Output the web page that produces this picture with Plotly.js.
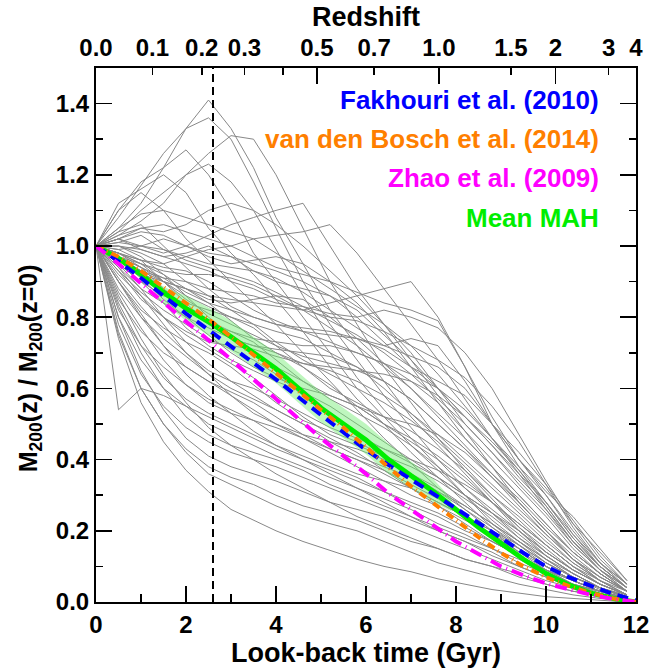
<!DOCTYPE html>
<html><head><meta charset="utf-8">
<script src="https://cdn.plot.ly/plotly-3.0.1.min.js"></script>
<style>html,body{margin:0;padding:0;background:#fff}</style>
</head><body><div id="chart" style="width:659px;height:672px"></div>
<script>
// Look-back time grid (Gyr) of the individual halo mass accretion histories
const lookbackGrid = [0,0.5,1.0,1.5,2.0,2.5,3.0,3.5,4.0,4.6,5.2,5.8,6.4,7.0,7.6,8.2,8.8,9.4,10.0,10.6,11.2,11.8];
// Individual MAHs, M200(z)/M200(z=0)
const grayMAHs = [
 [1.0,1.08,1.17,1.26,1.33,1.41,1.33,1.22,1.08,0.95,0.82,0.72,0.62,0.52,0.44,0.36,0.28,0.20,0.13,0.08,0.04,0.02],
 [1.0,1.05,1.12,1.22,1.33,1.36,1.30,1.18,1.05,0.90,0.78,0.68,0.58,0.49,0.40,0.32,0.25,0.18,0.12,0.07,0.035,0.015],
 [1.0,1.03,1.07,1.12,1.20,1.26,1.31,1.30,1.20,1.05,0.90,0.78,0.66,0.56,0.46,0.37,0.29,0.21,0.14,0.09,0.05,0.02],
 [1.0,1.10,1.18,1.22,1.27,1.20,1.10,0.98,0.90,0.80,0.70,0.60,0.52,0.44,0.37,0.30,0.23,0.17,0.11,0.07,0.04,0.015],
 [1.0,1.04,1.10,1.15,1.20,1.23,1.18,1.10,0.99,0.86,0.74,0.63,0.54,0.46,0.38,0.30,0.22,0.16,0.10,0.06,0.03,0.01],
 [1.0,1.12,1.16,1.20,1.15,1.05,0.98,0.92,0.85,0.76,0.66,0.57,0.50,0.42,0.35,0.28,0.21,0.15,0.10,0.06,0.03,0.01],
 [1.0,1.10,1.15,1.10,1.02,0.96,0.90,0.84,0.78,0.70,0.62,0.54,0.46,0.39,0.32,0.26,0.20,0.14,0.09,0.05,0.03,0.01],
 [1.0,1.02,1.00,0.98,1.00,1.03,1.06,1.08,1.10,1.12,1.00,0.88,0.78,0.68,0.58,0.48,0.38,0.28,0.20,0.12,0.06,0.03],
 [1.0,0.98,0.96,0.95,0.97,0.99,1.00,1.02,1.03,1.04,1.06,0.98,0.88,0.78,0.68,0.57,0.46,0.36,0.26,0.16,0.09,0.04],
 [1.0,0.97,0.93,0.90,0.88,0.86,0.85,0.84,0.83,0.82,0.84,0.86,0.88,0.90,0.80,0.66,0.52,0.40,0.31,0.24,0.15,0.06],
 [1.0,1.03,1.05,1.06,1.04,1.02,1.00,0.97,0.94,0.92,0.90,0.87,0.84,0.82,0.79,0.66,0.50,0.40,0.32,0.22,0.14,0.06],
 [1.0,1.05,1.09,1.10,1.08,1.06,1.04,1.02,0.98,0.93,0.88,0.83,0.78,0.72,0.64,0.55,0.46,0.38,0.30,0.20,0.11,0.05],
 [1.0,1.02,1.05,1.04,1.06,1.10,1.12,1.10,1.06,1.00,0.93,0.86,0.78,0.70,0.60,0.50,0.42,0.33,0.25,0.16,0.09,0.04],
 [1.0,0.99,1.00,1.02,1.00,0.97,0.95,0.96,0.97,0.95,0.90,0.84,0.76,0.66,0.56,0.46,0.38,0.30,0.22,0.14,0.08,0.03],
 [1.0,1.01,1.03,0.99,0.96,0.94,0.92,0.90,0.87,0.83,0.79,0.75,0.70,0.64,0.57,0.50,0.42,0.34,0.26,0.17,0.10,0.04],
 [1.0,0.98,0.95,0.93,0.92,0.92,0.91,0.89,0.86,0.82,0.77,0.72,0.66,0.60,0.53,0.46,0.38,0.30,0.22,0.14,0.08,0.03],
 [1.0,0.96,0.92,0.90,0.88,0.85,0.84,0.85,0.86,0.85,0.80,0.74,0.67,0.60,0.52,0.44,0.36,0.29,0.21,0.14,0.08,0.03],
 [1.0,0.97,0.94,0.90,0.86,0.83,0.80,0.78,0.76,0.74,0.70,0.66,0.62,0.57,0.50,0.43,0.35,0.27,0.19,0.12,0.07,0.03],
 [1.0,1.00,0.98,0.95,0.90,0.86,0.82,0.78,0.73,0.68,0.64,0.60,0.56,0.51,0.45,0.38,0.30,0.23,0.16,0.10,0.05,0.02],
 [1.0,0.95,0.90,0.86,0.84,0.82,0.80,0.77,0.72,0.66,0.60,0.56,0.52,0.48,0.43,0.37,0.30,0.24,0.17,0.11,0.06,0.02],
 [1.0,0.96,0.91,0.85,0.80,0.77,0.74,0.72,0.70,0.66,0.61,0.55,0.50,0.46,0.41,0.35,0.28,0.21,0.15,0.09,0.05,0.02],
 [1.0,0.98,0.94,0.88,0.82,0.78,0.76,0.73,0.68,0.62,0.57,0.53,0.49,0.44,0.38,0.32,0.26,0.20,0.14,0.09,0.05,0.02],
 [1.0,0.94,0.88,0.84,0.80,0.75,0.70,0.66,0.63,0.60,0.58,0.55,0.50,0.45,0.40,0.34,0.28,0.22,0.16,0.10,0.05,0.02],
 [1.0,0.93,0.87,0.82,0.78,0.74,0.71,0.68,0.64,0.58,0.52,0.47,0.43,0.40,0.37,0.33,0.28,0.22,0.16,0.10,0.06,0.02],
 [1.0,0.95,0.90,0.84,0.77,0.72,0.68,0.65,0.62,0.59,0.55,0.50,0.45,0.40,0.35,0.30,0.25,0.19,0.13,0.08,0.04,0.015],
 [1.0,0.92,0.86,0.80,0.75,0.71,0.67,0.63,0.58,0.52,0.47,0.44,0.41,0.38,0.34,0.29,0.24,0.18,0.13,0.08,0.04,0.015],
 [1.0,0.90,0.82,0.77,0.73,0.70,0.66,0.61,0.56,0.51,0.48,0.45,0.41,0.36,0.31,0.26,0.21,0.16,0.11,0.07,0.04,0.015],
 [1.0,0.91,0.83,0.76,0.70,0.65,0.62,0.60,0.57,0.53,0.49,0.46,0.43,0.39,0.35,0.30,0.25,0.20,0.14,0.09,0.05,0.02],
 [1.0,0.88,0.80,0.74,0.69,0.64,0.60,0.57,0.54,0.50,0.45,0.41,0.38,0.35,0.31,0.27,0.22,0.17,0.12,0.08,0.04,0.015],
 [1.0,0.90,0.81,0.72,0.66,0.62,0.59,0.56,0.52,0.47,0.43,0.40,0.37,0.33,0.29,0.24,0.20,0.15,0.10,0.06,0.03,0.01],
 [1.0,0.85,0.76,0.70,0.66,0.62,0.58,0.54,0.50,0.46,0.43,0.40,0.36,0.32,0.28,0.24,0.20,0.16,0.11,0.07,0.04,0.01],
 [1.0,0.87,0.77,0.68,0.61,0.56,0.53,0.51,0.49,0.46,0.42,0.38,0.34,0.30,0.27,0.23,0.19,0.15,0.10,0.06,0.03,0.01],
 [1.0,0.82,0.72,0.66,0.61,0.57,0.54,0.51,0.47,0.43,0.39,0.36,0.34,0.32,0.28,0.24,0.19,0.14,0.10,0.06,0.03,0.01],
 [1.0,0.84,0.72,0.63,0.57,0.53,0.50,0.47,0.44,0.41,0.38,0.35,0.31,0.27,0.24,0.20,0.17,0.13,0.09,0.06,0.03,0.01],
 [1.0,0.54,0.60,0.58,0.55,0.52,0.49,0.46,0.43,0.40,0.37,0.34,0.31,0.28,0.25,0.21,0.17,0.13,0.09,0.06,0.03,0.01],
 [1.0,0.80,0.68,0.60,0.55,0.50,0.47,0.44,0.41,0.38,0.35,0.32,0.29,0.26,0.22,0.19,0.15,0.12,0.08,0.05,0.03,0.01],
 [1.0,0.83,0.70,0.60,0.52,0.47,0.44,0.42,0.40,0.37,0.33,0.30,0.27,0.24,0.21,0.18,0.15,0.11,0.08,0.05,0.025,0.01],
 [1.0,0.78,0.64,0.55,0.49,0.45,0.42,0.40,0.38,0.35,0.32,0.29,0.26,0.23,0.20,0.17,0.13,0.10,0.07,0.04,0.02,0.01],
 [1.0,0.80,0.65,0.54,0.46,0.41,0.38,0.36,0.34,0.31,0.28,0.26,0.24,0.21,0.18,0.15,0.12,0.09,0.06,0.04,0.02,0.01],
 [1.0,0.76,0.60,0.50,0.43,0.38,0.35,0.33,0.30,0.27,0.25,0.23,0.20,0.17,0.15,0.12,0.10,0.08,0.05,0.03,0.02,0.005],
 [1.0,0.74,0.56,0.45,0.37,0.31,0.26,0.23,0.20,0.17,0.145,0.12,0.10,0.085,0.065,0.05,0.035,0.025,0.015,0.01,0.005,0.0],
 [1.0,0.75,0.60,0.50,0.42,0.36,0.33,0.30,0.27,0.24,0.22,0.20,0.17,0.14,0.11,0.09,0.07,0.05,0.035,0.02,0.01,0.005],
 [1.0,0.86,0.74,0.64,0.56,0.49,0.44,0.40,0.36,0.32,0.28,0.24,0.21,0.18,0.15,0.12,0.10,0.07,0.05,0.03,0.02,0.005],
 [1.0,0.90,0.80,0.72,0.64,0.58,0.53,0.48,0.44,0.40,0.36,0.32,0.28,0.24,0.20,0.17,0.14,0.10,0.07,0.04,0.02,0.01],
 [1.0,0.95,0.88,0.80,0.73,0.67,0.62,0.58,0.54,0.50,0.46,0.42,0.37,0.32,0.27,0.22,0.17,0.13,0.09,0.05,0.03,0.01],
 [1.0,1.00,0.97,0.92,0.86,0.80,0.75,0.70,0.66,0.62,0.58,0.55,0.52,0.50,0.47,0.42,0.35,0.28,0.20,0.13,0.07,0.03],
 [1.0,0.98,0.96,0.94,0.93,0.90,0.86,0.82,0.79,0.76,0.73,0.70,0.67,0.64,0.60,0.54,0.46,0.37,0.28,0.18,0.10,0.04],
 [1.0,1.02,0.99,0.97,0.98,1.00,0.97,0.93,0.90,0.88,0.86,0.82,0.75,0.68,0.60,0.52,0.44,0.35,0.27,0.17,0.09,0.03],
 [1.0,0.93,0.85,0.80,0.76,0.73,0.72,0.71,0.69,0.67,0.65,0.62,0.58,0.53,0.47,0.40,0.33,0.26,0.19,0.12,0.07,0.03],
 [1.0,0.97,0.95,0.92,0.88,0.84,0.79,0.74,0.70,0.67,0.66,0.65,0.62,0.57,0.50,0.43,0.36,0.28,0.20,0.12,0.06,0.02],
 [1.0,0.94,0.86,0.78,0.70,0.64,0.58,0.53,0.50,0.47,0.45,0.43,0.40,0.36,0.32,0.27,0.22,0.17,0.12,0.07,0.04,0.015],
 [1.0,1.04,1.06,1.00,0.94,0.88,0.83,0.80,0.78,0.77,0.76,0.74,0.71,0.66,0.60,0.52,0.44,0.36,0.28,0.19,0.11,0.05],
 [1.0,0.97,0.93,0.88,0.83,0.79,0.76,0.74,0.73,0.72,0.72,0.70,0.67,0.62,0.56,0.48,0.40,0.32,0.24,0.15,0.08,0.03],
 [1.0,0.99,0.96,0.90,0.84,0.78,0.74,0.72,0.71,0.70,0.69,0.66,0.60,0.53,0.46,0.39,0.32,0.25,0.18,0.11,0.06,0.02],
 [1.0,1.01,1.00,0.99,0.97,0.95,0.94,0.93,0.91,0.87,0.82,0.77,0.72,0.74,0.72,0.62,0.50,0.38,0.28,0.18,0.10,0.04],
 [1.0,0.96,0.93,0.91,0.90,0.88,0.87,0.86,0.84,0.83,0.81,0.80,0.82,0.80,0.77,0.70,0.60,0.47,0.34,0.22,0.12,0.05],
 [1.0,1.00,0.99,0.97,0.95,0.93,0.90,0.88,0.85,0.82,0.80,0.79,0.76,0.72,0.68,0.63,0.55,0.45,0.33,0.21,0.11,0.04],
 [1.0,0.97,0.94,0.91,0.87,0.84,0.82,0.80,0.78,0.76,0.75,0.74,0.72,0.69,0.66,0.60,0.50,0.40,0.30,0.19,0.10,0.04],
 [1.0,0.98,0.95,0.90,0.85,0.81,0.78,0.75,0.72,0.69,0.67,0.65,0.64,0.62,0.58,0.52,0.45,0.37,0.27,0.17,0.09,0.03],
 [1.0,1.02,1.04,1.03,1.00,0.98,0.97,0.95,0.93,0.90,0.86,0.80,0.73,0.66,0.62,0.58,0.50,0.42,0.33,0.23,0.13,0.05]
];

// Model / mean curves on their own time grid
const modelTime = [0,0.5,1,1.5,2,2.6,3,3.5,4,4.5,5,5.5,6,6.5,7,7.5,8,8.5,9,9.5,10,10.5,11,11.5,12];
const meanMAH = [1.0,0.965,0.92,0.87,0.825,0.78,0.745,0.70,0.655,0.60,0.545,0.50,0.455,0.40,0.355,0.31,0.26,0.21,0.165,0.12,0.08,0.048,0.025,0.01,0.0];
const fakhouri2010 = [1.0,0.957,0.91,0.86,0.81,0.755,0.718,0.672,0.625,0.575,0.525,0.475,0.427,0.385,0.345,0.303,0.262,0.222,0.18,0.138,0.10,0.07,0.045,0.022,0.005];
const vandenBosch2014 = [1.0,0.97,0.93,0.885,0.84,0.785,0.745,0.695,0.645,0.592,0.54,0.49,0.435,0.378,0.325,0.277,0.228,0.182,0.138,0.10,0.07,0.045,0.025,0.01,0.0];
const zhao2009 = [1.0,0.95,0.895,0.84,0.788,0.725,0.68,0.625,0.57,0.515,0.46,0.41,0.36,0.305,0.26,0.215,0.17,0.135,0.10,0.075,0.052,0.036,0.02,0.008,0.0];

// scatter band around the mean MAH
const bandTime  = [1.3,1.6,2.0,2.6,3.0,3.5,4.0,4.5,5.0,5.5,6.0,6.5,7.0,7.5,7.9];
const bandUpper = [0.90,0.88,0.86,0.82,0.79,0.745,0.70,0.645,0.59,0.545,0.50,0.445,0.395,0.345,0.29];
const bandLower = [0.86,0.83,0.79,0.74,0.705,0.66,0.615,0.56,0.505,0.46,0.415,0.36,0.32,0.28,0.255];

// top axis: redshift labels and their look-back times (Gyr)
const redshiftLabels   = ['0.0','0.1','0.2','0.3','','0.5','0.7','1.0','1.5','2','3','4'];
const redshiftLookback = [0,1.254,2.35,3.30,4.16,4.91,6.18,7.62,9.22,10.21,11.39,12.0];
const redshiftMajor    = [4.91,7.62,10.21];

const cutTime = 2.6;
const legendNames  = ['Fakhouri et al. (2010)','van den Bosch et al. (2014)','Zhao et al. (2009)','Mean MAH'];
const legendColors = ['#0000ff','#ff7f00','#ff00ff','#00ee00'];
const legendY      = [1.41,1.30,1.19,1.08];

const FF = 'Liberation Sans, Arial, Helvetica, sans-serif';
const traces = [];
grayMAHs.forEach(m => traces.push({x: lookbackGrid, y: m, type:'scatter', mode:'lines',
  line:{color:'#888888', width:1}, hoverinfo:'skip'}));
traces.push({x: bandTime, y: bandUpper, mode:'lines', line:{width:0}, hoverinfo:'skip'});
traces.push({x: bandTime, y: bandLower, mode:'lines', line:{width:0}, fill:'tonexty',
  fillcolor:'rgba(110,235,110,0.45)', hoverinfo:'skip'});
traces.push({x: modelTime, y: meanMAH, mode:'lines', line:{color:'#00ee00', width:5}});
traces.push({x: modelTime, y: fakhouri2010, mode:'lines', line:{color:'#0000ff', width:4, dash:'11px,7px'}});
traces.push({x: modelTime, y: vandenBosch2014, mode:'lines', line:{color:'#ff7f00', width:4, dash:'8px,4px,1px,4px'}});
traces.push({x: modelTime, y: zhao2009, mode:'lines', line:{color:'#ff00ff', width:4, dash:'12px,5px,1px,5px'}});
traces.push({x: [], y: [], xaxis:'x2', mode:'lines'});
traces.push({x: [], y: [], xaxis:'x3', mode:'lines'});

const tickFont = {family:FF, size:24, color:'#000', weight:'bold'};
const titleFont = {family:FF, size:27, color:'#000', weight:'bold'};

const layout = {
  width:659, height:672,
  margin:{l:96, r:23, t:68, b:70, pad:0},
  showlegend:false,
  paper_bgcolor:'#fff', plot_bgcolor:'#fff',
  xaxis:{range:[0,12], showgrid:false, zeroline:false, showline:true, linecolor:'#000', linewidth:2,
    ticks:'inside', ticklen:16, tickwidth:1.5, tickcolor:'#000',
    tickmode:'array', tickvals:[0,2,4,6,8,10,12], tickfont:tickFont,
    minor:{tickmode:'array', tickvals:[1,3,5,7,9,11], ticks:'inside', ticklen:8, tickwidth:1.5, tickcolor:'#000'},
    title:{text:'Look-back time (Gyr)', font:titleFont, standoff:6}},
  xaxis2:{overlaying:'x', side:'top', range:[0,12], showgrid:false, zeroline:false, showline:true,
    linecolor:'#000', linewidth:2, ticks:'inside', ticklen:7, tickwidth:1.5, tickcolor:'#000',
    tickmode:'array', tickvals:redshiftLookback, ticktext:redshiftLabels, tickfont:tickFont,
    title:{text:'Redshift', font:titleFont, standoff:0}},
  xaxis3:{overlaying:'x', side:'top', range:[0,12], showgrid:false, zeroline:false, showline:false,
    ticks:'inside', ticklen:16, tickwidth:1.5, tickcolor:'#000', tickmode:'array', tickvals:redshiftMajor,
    showticklabels:false},
  yaxis:{range:[0,1.5], showgrid:false, zeroline:false, showline:true, linecolor:'#000', linewidth:2,
    mirror:'ticks', ticks:'inside', ticklen:16, tickwidth:1.5, tickcolor:'#000',
    tickmode:'array', tickvals:[0,0.2,0.4,0.6,0.8,1.0,1.2,1.4], tickformat:'.1f', tickfont:tickFont,
    minor:{tickmode:'array', tickvals:[0.1,0.3,0.5,0.7,0.9,1.1,1.3], ticks:'inside', ticklen:7, tickwidth:1.5, tickcolor:'#000'}},
  shapes:[{type:'line', xref:'x', yref:'paper', x0:cutTime, x1:cutTime, y0:0, y1:1,
    line:{color:'#000', width:2, dash:'8px,5px'}}],
  annotations: legendNames.map((t,i)=>({text:t, xref:'paper', x:0.935, xanchor:'right', yref:'y', y:legendY[i],
    yanchor:'middle', showarrow:false, font:{family:FF, size:26, color:legendColors[i], weight:'bold'}}))
    .concat([{text:'M<sub>200</sub>(z) / M<sub>200</sub>(z=0)', xref:'paper', yref:'paper',
      x:-0.122, y:0.438, xanchor:'center', yanchor:'middle', textangle:-90, showarrow:false,
      font:{family:FF, size:25, color:'#000', weight:'bold'}}])
};
Plotly.newPlot('chart', traces, layout, {staticPlot:true, displayModeBar:false});
</script></body></html>
